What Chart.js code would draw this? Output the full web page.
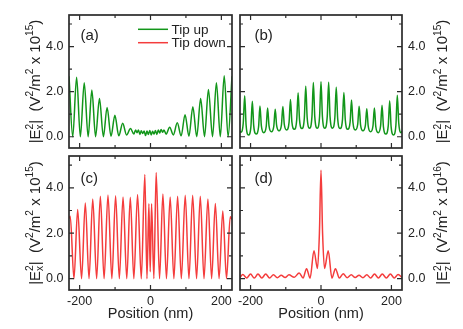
<!DOCTYPE html>
<html>
<head>
<meta charset="utf-8">
<script src="https://cdn.jsdelivr.net/npm/chart.js@4.4.0/dist/chart.umd.min.js"></script>
<style>
  body { margin: 0; background: #fff; }
  #wrap { position: relative; width: 463px; height: 329px; }
  canvas { position: absolute; left: 0; top: 0; }
</style>
</head>
<body>
<div id="wrap">
  <canvas id="pa" width="463" height="329"></canvas>
  <canvas id="pb" width="463" height="329"></canvas>
  <canvas id="pc" width="463" height="329"></canvas>
  <canvas id="pd" width="463" height="329"></canvas>
</div>
<script>
// positions in nm, field values in units of the axis titles
const posA = [-230, -219.5, -208.5, -198, -187, -176, -165.5, -155, -144, -133, -122.5, -111.5, -100.5, -89.5, -78.5, -67.5, -56.5, -47, -42, -38, -34, -30, -26, -22, -18, -14, -10, -6, -2, 2, 6, 10, 14, 18, 22, 26, 30, 34, 38, 44, 54, 64.5, 75.5, 86.5, 97.5, 108.5, 119.5, 130.5, 141.5, 152.5, 163.5, 175, 186, 197, 208, 219, 230];
const tipUpEx = [2.68, 0, 2.64, 0, 2.4, 0, 2.07, 0, 1.7, 0, 1.3, 0.02, 0.95, 0.04, 0.6, 0.08, 0.37, 0.12, 0.3, 0.18, 0.3, 0.1, 0.27, 0.14, 0.25, 0.05, 0.25, 0.1, 0.28, 0.08, 0.24, 0.12, 0.28, 0.1, 0.3, 0.17, 0.32, 0.2, 0.3, 0.12, 0.42, 0.08, 0.62, 0.04, 0.98, 0.02, 1.33, 0, 1.7, 0, 2.1, 0, 2.4, 0, 2.7, 0, 2.68];

const posB = [-230, -227.5, -220.7, -216.7, -212.7, -205.8, -199, -195, -191, -184.2, -177.3, -173.3, -169.3, -162.5, -155.6, -151.6, -147.6, -140.8, -134, -130, -126, -119.2, -112.3, -108.3, -104.3, -97.5, -90.7, -86.7, -82.7, -75.8, -69, -65, -61, -54.2, -47.3, -43.3, -39.3, -32.5, -25.7, -21.7, -17.7, -10.8, -4, 0, 4, 10.8, 17.7, 21.7, 25.7, 32.5, 39.3, 43.3, 47.3, 54.2, 61, 65, 69, 75.8, 82.7, 86.7, 90.7, 97.5, 104.3, 108.3, 112.3, 119.2, 126, 130, 134, 140.8, 147.6, 151.6, 155.6, 162.5, 169.3, 173.3, 177.3, 184.2, 191, 195, 199, 205.8, 212.7, 216.7, 220.7, 227.5, 230];
const tipUpEz = [0.25, 0.2, 0.62, 1.82, 0.52, 0.08, 0.45, 1.57, 0.48, 0.12, 0.43, 1.36, 0.48, 0.18, 0.45, 1.27, 0.48, 0.22, 0.47, 1.22, 0.5, 0.26, 0.53, 1.34, 0.56, 0.3, 0.64, 1.65, 0.66, 0.33, 0.74, 1.95, 0.76, 0.36, 0.83, 2.24, 0.85, 0.38, 0.89, 2.41, 0.89, 0.38, 0.9, 2.44, 0.9, 0.38, 0.89, 2.42, 0.89, 0.38, 0.84, 2.2, 0.82, 0.36, 0.76, 1.96, 0.74, 0.33, 0.66, 1.63, 0.63, 0.3, 0.56, 1.35, 0.53, 0.26, 0.5, 1.24, 0.48, 0.22, 0.48, 1.27, 0.45, 0.18, 0.49, 1.4, 0.44, 0.12, 0.49, 1.6, 0.46, 0.08, 0.52, 1.84, 0.62, 0.18, 0.25];

const posC = [-230, -226.5, -216, -205.5, -194.5, -184, -173.5, -163, -152, -141.5, -131, -120, -109, -98.5, -88, -77.5, -67, -57, -47, -36.5, -26, -16, -10, -4.5, -0.8, 3, 9.5, 16, 25.5, 35, 45, 55.5, 66, 76.5, 87, 98, 108.5, 119, 130, 140.5, 151, 162, 172.5, 183, 193.5, 204, 214.5, 225, 230];
const tipDownEx = [2.65, 2.75, 0, 3.04, 0, 3.33, 0, 3.51, 0, 3.63, 0, 3.68, 0, 3.65, 0, 3.6, 0, 3.58, 0, 3.7, 0, 4.59, 0, 3.3, 0.3, 3.3, 0, 4.67, 0, 3.73, 0, 3.6, 0, 3.63, 0, 3.67, 0, 3.67, 0, 3.63, 0, 3.51, 0, 3.31, 0, 2.98, 0, 2.72, 2.6];

const posD = [-230, -222, -211, -200, -189.5, -179, -168, -157, -146, -135, -124, -113, -102, -91, -76, -62, -51, -41, -31, -20, -10, -4.5, 0, 4.5, 10, 20.5, 31, 41, 52, 63, 74, 86, 97, 108, 119, 130, 141, 152, 163, 174, 185.5, 197, 208, 219, 230];
const tipDownEz = [0.05, 0.18, 0.03, 0.2, 0.03, 0.2, 0.03, 0.2, 0.03, 0.17, 0.04, 0.15, 0.05, 0.17, 0.06, 0.25, 0.03, 0.44, 0.02, 1.23, 0.45, 2.0, 4.77, 2.0, 0.45, 1.23, 0.02, 0.44, 0.03, 0.22, 0.04, 0.17, 0.05, 0.15, 0.04, 0.17, 0.03, 0.2, 0.03, 0.2, 0.03, 0.2, 0.03, 0.18, 0.05];

const xTickValues = [-200, -100, 0, 100, 200];
const xMajor = [-200, 0, 200];
const yTickValues = [0, 1, 2, 3, 4, 5];
const yMajor = [0, 2, 4];

const seriesNames = ['Tip up', 'Tip down'];
const panelLetters = ['(a)', '(b)', '(c)', '(d)'];
const fieldComponent = ['x', 'z', 'x', 'z'];
const fieldExponent = ['15', '15', '15', '16'];
const xTitle = 'Position (nm)';

const FONT = '"Liberation Sans", Arial, Helvetica, sans-serif';
const GREEN = '#12961a';
const RED = '#f43c3c';
const INK = '#222';

Chart.defaults.font.family = FONT;
Chart.defaults.color = INK;

function titleSegments(comp, exp) {
  return [
    { t: '|E' }, { sup: '2', sub: comp }, { t: '|  (V' }, { sup: '2' },
    { t: '/m' }, { sup: '2' }, { t: ' x 10' }, { sup: exp }, { t: ')' }
  ];
}

// draws rich text centred on the origin, baseline at y = 0
function drawRich(ctx, segs, size) {
  const small = size * 0.68;
  const big = `${size}px ${FONT}`, sm = `${small}px ${FONT}`;
  const widths = segs.map(s => {
    if (s.t) { ctx.font = big; return ctx.measureText(s.t).width; }
    ctx.font = sm;
    return Math.max(ctx.measureText(s.sup || '').width, ctx.measureText(s.sub || '').width);
  });
  let x = -widths.reduce((a, b) => a + b, 0) / 2;
  ctx.textAlign = 'left';
  ctx.textBaseline = 'alphabetic';
  segs.forEach((s, i) => {
    if (s.t) { ctx.font = big; ctx.fillText(s.t, x, 0); }
    else {
      ctx.font = sm;
      if (s.sup) ctx.fillText(s.sup, x, -size * 0.42);
      if (s.sub) ctx.fillText(s.sub, x, size * 0.24);
    }
    x += widths[i];
  });
}

function decor(p) {
  return {
    id: 'decor',
    afterDraw(chart) {
      const ctx = chart.ctx;
      const { left, right, top, bottom } = chart.chartArea;
      const sx = chart.scales.x, sy = chart.scales.y;
      ctx.save();
      ctx.strokeStyle = '#2b2b2b';
      ctx.lineWidth = 1.2;
      ctx.beginPath();
      xTickValues.forEach(v => {
        const px = sx.getPixelForValue(v);
        const len = xMajor.includes(v) ? 5 : 3;
        ctx.moveTo(px, bottom); ctx.lineTo(px, bottom - len);
        ctx.moveTo(px, top); ctx.lineTo(px, top + len);
      });
      yTickValues.forEach(v => {
        const py = sy.getPixelForValue(v);
        const len = yMajor.includes(v) ? 5 : 3;
        ctx.moveTo(left, py); ctx.lineTo(left + len, py);
        ctx.moveTo(right, py); ctx.lineTo(right - len, py);
      });
      ctx.stroke();
      ctx.lineWidth = 1.7;
      ctx.strokeRect(left, top, right - left, bottom - top);

      ctx.fillStyle = INK;
      ctx.font = `15px ${FONT}`;
      ctx.textAlign = 'left';
      ctx.textBaseline = 'alphabetic';
      ctx.fillText(p.letter, left + p.letterDx, top + p.letterDy);

      if (p.legend) {
        ctx.font = `13.5px ${FONT}`;
        ctx.textBaseline = 'middle';
        ctx.lineWidth = 1.5;
        seriesNames.forEach((name, i) => {
          const y = top + 14.3 + i * 13.4;
          ctx.strokeStyle = [GREEN, RED][i];
          ctx.beginPath();
          ctx.moveTo(left + 69, y); ctx.lineTo(left + 99, y);
          ctx.stroke();
          ctx.fillText(name, left + 102.5, y + 0.5);
        });
      }

      ctx.translate(p.titleX, (top + bottom) / 2);
      ctx.rotate(-Math.PI / 2);
      drawRich(ctx, titleSegments(p.comp, p.exp), 15);
      ctx.restore();
    }
  };
}

function makePanel(p) {
  const W = 463, H = 329;
  const a = p.area;
  const padding = {
    top: a.top,
    left: p.side === 'left' ? 0 : a.left,
    right: p.side === 'left' ? W - a.right : 0,
    bottom: p.showX ? 0 : H - a.bottom
  };
  new Chart(document.getElementById(p.id), {
    type: 'line',
    data: {
      datasets: [{
        label: p.name,
        data: p.xs.map((x, i) => ({ x: x, y: p.ys[i] })),
        borderColor: p.color,
        borderWidth: 1.5,
        pointRadius: 0,
        fill: false,
        cubicInterpolationMode: 'monotone'
      }]
    },
    options: {
      responsive: false,
      animation: false,
      devicePixelRatio: 1,
      events: [],
      layout: { padding: padding },
      plugins: { legend: { display: false }, tooltip: { enabled: false } },
      scales: {
        x: {
          type: 'linear',
          min: -230,
          max: 230,
          display: p.showX,
          grid: { display: false, drawTicks: false },
          border: { display: false },
          ticks: {
            autoSkip: false,
            includeBounds: false,
            maxRotation: 0,
            padding: 4,
            font: { size: 12.5 },
            callback: v => xMajor.includes(v) ? String(v) : ''
          },
          afterBuildTicks: s => { s.ticks = xTickValues.map(v => ({ value: v })); },
          afterFit: s => { if (p.showX) s.height = H - a.bottom; },
          title: {
            display: true,
            text: xTitle,
            font: { size: 14.5 },
            padding: { top: 0, bottom: 6.6 }
          }
        },
        y: {
          type: 'linear',
          min: -0.5,
          max: 5.4,
          position: p.side,
          grid: { display: false, drawTicks: false },
          border: { display: false },
          ticks: {
            autoSkip: false,
            includeBounds: false,
            padding: p.side === 'left' ? 5.5 : 6,
            font: { size: 12.5 },
            callback: v => yMajor.includes(v) ? v.toFixed(1) : ''
          },
          afterBuildTicks: s => { s.ticks = yTickValues.map(v => ({ value: v })); },
          afterFit: s => { s.width = p.side === 'left' ? a.left : W - a.right; }
        }
      }
    },
    plugins: [decor(p)]
  });
}

const panels = [
  { id: 'pa', area: { left: 69, top: 15, right: 232, bottom: 148 }, side: 'left', showX: false,
    xs: posA, ys: tipUpEx, color: GREEN, name: seriesNames[0], legend: true,
    letter: panelLetters[0], letterDx: 11.5, letterDy: 24.5, titleX: 39.5, comp: fieldComponent[0], exp: fieldExponent[0] },
  { id: 'pb', area: { left: 240, top: 15, right: 402, bottom: 148 }, side: 'right', showX: false,
    xs: posB, ys: tipUpEz, color: GREEN, name: seriesNames[0], legend: false,
    letter: panelLetters[1], letterDx: 14.5, letterDy: 25, titleX: 447, comp: fieldComponent[1], exp: fieldExponent[1] },
  { id: 'pc', area: { left: 69, top: 156, right: 232, bottom: 290 }, side: 'left', showX: true,
    xs: posC, ys: tipDownEx, color: RED, name: seriesNames[1], legend: false,
    letter: panelLetters[2], letterDx: 11.5, letterDy: 26.5, titleX: 39.5, comp: fieldComponent[2], exp: fieldExponent[2] },
  { id: 'pd', area: { left: 240, top: 156, right: 402, bottom: 290 }, side: 'right', showX: true,
    xs: posD, ys: tipDownEz, color: RED, name: seriesNames[1], legend: false,
    letter: panelLetters[3], letterDx: 14.5, letterDy: 27, titleX: 447, comp: fieldComponent[3], exp: fieldExponent[3] }
];

panels.forEach(makePanel);
</script>
</body>
</html>
